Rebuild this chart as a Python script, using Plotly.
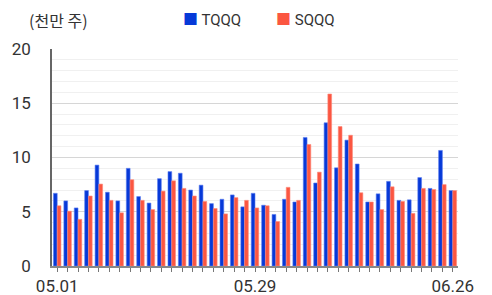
import plotly.graph_objects as go

dates = ["05.01","05.02","05.03","05.06","05.07","05.08","05.09","05.10","05.13","05.14",
         "05.15","05.16","05.17","05.20","05.21","05.22","05.23","05.24","05.28","05.29",
         "05.30","05.31","06.03","06.04","06.05","06.06","06.07","06.10","06.11","06.12",
         "06.13","06.14","06.17","06.18","06.20","06.21","06.24","06.25","06.26"]
tqqq = [6.7,6.0,5.35,6.95,9.3,6.8,6.0,9.0,6.4,5.8,
        8.05,8.7,8.55,7.0,7.45,5.75,6.15,6.55,5.45,6.7,
        5.6,4.75,6.15,5.9,11.85,7.65,13.2,9.05,11.6,9.4,
        5.9,6.65,7.8,6.05,6.1,8.15,7.15,10.65,6.95]
sqqq = [5.55,5.05,4.3,6.45,7.55,6.05,4.9,7.95,6.05,5.2,
        6.9,7.85,7.15,6.45,5.95,5.3,4.8,6.3,6.05,5.35,
        5.55,4.1,7.25,6.05,11.2,8.65,15.85,12.85,12.05,6.75,
        5.9,5.2,7.3,5.95,4.85,7.15,7.05,7.5,6.95]
shown_labels = ["05.01", "05.29", "06.26"]

BLUE = "#0639d8"
RED = "#fb5641"
FONT = "Roboto, 'Noto Sans CJK KR', sans-serif"

fig = go.Figure()
fig.add_trace(go.Bar(x=dates, y=tqqq, name="TQQQ", marker=dict(color=BLUE, line=dict(color="#5a7cf0", width=0.6))))
fig.add_trace(go.Bar(x=dates, y=sqqq, name="SQQQ", marker=dict(color=RED, line=dict(color="#fd8a7a", width=0.6))))

fig.update_layout(
    width=492, height=295,
    margin=dict(l=52, r=34, t=49, b=29, autoexpand=False),
    paper_bgcolor="white", plot_bgcolor="white",
    barmode="group", bargap=0.28, bargroupgap=0.0,
    showlegend=False,
    font=dict(family=FONT, size=16, color="#333333"),
    xaxis=dict(
        type="category", tickmode="array", tickvals=dates,
        ticktext=[d if d in shown_labels else "" for d in dates],
        ticks="outside", ticklen=4, tickcolor="#777777", tickwidth=1,
        showline=True, linecolor="#888888", linewidth=1.5,
        showgrid=False, tickfont=dict(size=17, color="#333333"),
        range=[-0.5, len(dates) - 0.5], automargin=False,
    ),
    yaxis=dict(
        range=[0, 20], dtick=5, tickmode="linear", tick0=0,
        showline=True, linecolor="#666666", linewidth=1.5,
        showgrid=True, gridcolor="#d6d6d6", gridwidth=1,
        minor=dict(dtick=1, showgrid=True, gridcolor="#f0f0f0", gridwidth=1),
        zeroline=False, ticks="", ticklabelstandoff=16,
        tickfont=dict(size=17, color="#333333"), automargin=False,
    ),
    annotations=[
        dict(text="(천만 주)", xref="paper", yref="paper", x=-0.061, y=1.0, yshift=29,
             xanchor="left", yanchor="middle", showarrow=False,
             font=dict(size=16, color="#333333", family="'Noto Sans CJK KR', sans-serif")),
        dict(text=f"<span style='color:{BLUE}'>■</span> TQQQ", xref="paper", yref="paper",
             x=0.318, y=1.0, yshift=29, xanchor="left", yanchor="middle", showarrow=False,
             font=dict(size=15, color="#333333")),
        dict(text=f"<span style='color:{RED}'>■</span> SQQQ", xref="paper", yref="paper",
             x=0.547, y=1.0, yshift=29, xanchor="left", yanchor="middle", showarrow=False,
             font=dict(size=15, color="#333333")),
    ],
)

fig.write_html("out.html", config={"displayModeBar": False},
               post_script="document.body.style.margin='0';document.body.style.padding='0';")
